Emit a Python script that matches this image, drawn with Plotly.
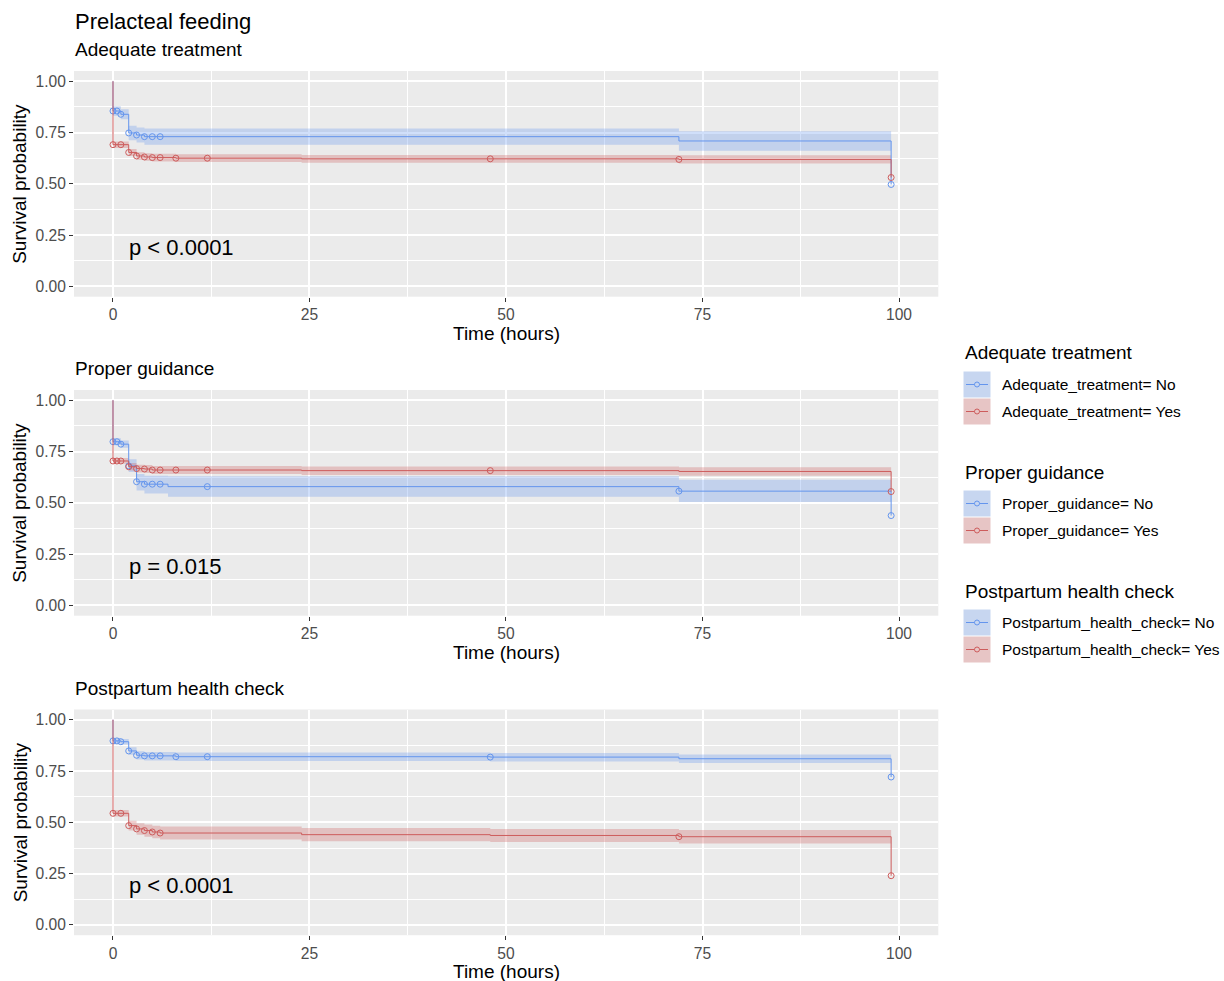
import numpy as np
import plotly.graph_objects as go

W, H = 1224, 981

# ---------------- data ----------------
main_title = "Prelacteal feeding"
panel_titles = ["Adequate treatment", "Proper guidance", "Postpartum health check"]
strata_labels = [
    ["Adequate_treatment= No", "Adequate_treatment= Yes"],
    ["Proper_guidance= No", "Proper_guidance= Yes"],
    ["Postpartum_health_check= No", "Postpartum_health_check= Yes"],
]
pvalues = ["p < 0.0001", "p = 0.015", "p < 0.0001"]
x_ticks = [0, 25, 50, 75, 100]
y_ticks = [0.0, 0.25, 0.5, 0.75, 1.0]
y_ticktext = ["0.00", "0.25", "0.50", "0.75", "1.00"]
x_title = "Time (hours)"
y_title = "Survival probability"

# Adequate treatment
adeq_no_time = [0, 0, 1, 2, 3, 4, 72, 99]
adeq_no_surv = [1.0, 0.855, 0.839, 0.748, 0.738, 0.730, 0.709, 0.497]
adeq_no_lower = [1.0, 0.832, 0.815, 0.713, 0.702, 0.690, 0.661, 0.497]
adeq_no_upper = [1.0, 0.878, 0.863, 0.783, 0.775, 0.770, 0.756, 0.497]
adeq_no_censor = [0, 0.5, 1, 2, 3, 4, 5, 6, 99]

adeq_yes_time = [0, 0, 2, 3, 4, 5, 8, 24, 72, 99]
adeq_yes_surv = [1.0, 0.691, 0.653, 0.636, 0.631, 0.628, 0.625, 0.622, 0.619, 0.531]
adeq_yes_lower = [1.0, 0.675, 0.636, 0.618, 0.613, 0.609, 0.606, 0.603, 0.599, 0.531]
adeq_yes_upper = [1.0, 0.707, 0.670, 0.654, 0.649, 0.647, 0.644, 0.641, 0.639, 0.531]
adeq_yes_censor = [0, 1, 2, 3, 4, 5, 6, 8, 12, 48, 72, 99]

# Proper guidance
guid_no_time = [0, 0, 1, 2, 3, 4, 7, 72, 99]
guid_no_surv = [1.0, 0.798, 0.786, 0.680, 0.603, 0.591, 0.579, 0.557, 0.438]
guid_no_lower = [1.0, 0.781, 0.768, 0.650, 0.560, 0.545, 0.530, 0.504, 0.438]
guid_no_upper = [1.0, 0.815, 0.804, 0.712, 0.640, 0.632, 0.630, 0.612, 0.438]
guid_no_censor = [0, 0.5, 1, 2, 3, 4, 5, 6, 12, 72, 99]

guid_yes_time = [0, 0, 2, 3, 4, 5, 24, 72, 99]
guid_yes_surv = [1.0, 0.704, 0.676, 0.667, 0.665, 0.660, 0.657, 0.653, 0.555]
guid_yes_lower = [1.0, 0.690, 0.658, 0.648, 0.646, 0.640, 0.636, 0.632, 0.555]
guid_yes_upper = [1.0, 0.718, 0.694, 0.686, 0.684, 0.680, 0.677, 0.673, 0.555]
guid_yes_censor = [0, 0.5, 1, 2, 3, 4, 5, 6, 8, 12, 48, 99]

# Postpartum health check
post_no_time = [0, 0, 1, 2, 3, 4, 8, 48, 72, 99]
post_no_surv = [1.0, 0.897, 0.893, 0.848, 0.827, 0.824, 0.820, 0.818, 0.810, 0.721]
post_no_lower = [1.0, 0.884, 0.879, 0.830, 0.806, 0.802, 0.799, 0.797, 0.789, 0.721]
post_no_upper = [1.0, 0.910, 0.906, 0.866, 0.846, 0.843, 0.840, 0.838, 0.831, 0.721]
post_no_censor = [0, 0.5, 1, 2, 3, 4, 5, 6, 8, 12, 48, 99]

post_yes_time = [0, 0, 2, 3, 4, 5, 6, 24, 48, 72, 99]
post_yes_surv = [1.0, 0.544, 0.484, 0.468, 0.460, 0.453, 0.448, 0.440, 0.436, 0.430, 0.240]
post_yes_lower = [1.0, 0.528, 0.460, 0.440, 0.430, 0.422, 0.416, 0.408, 0.404, 0.397, 0.240]
post_yes_upper = [1.0, 0.560, 0.508, 0.496, 0.490, 0.484, 0.480, 0.472, 0.468, 0.463, 0.240]
post_yes_censor = [0, 1, 2, 3, 4, 5, 6, 72, 99]

panels = [
    [(adeq_no_time, adeq_no_surv, adeq_no_lower, adeq_no_upper, adeq_no_censor),
     (adeq_yes_time, adeq_yes_surv, adeq_yes_lower, adeq_yes_upper, adeq_yes_censor)],
    [(guid_no_time, guid_no_surv, guid_no_lower, guid_no_upper, guid_no_censor),
     (guid_yes_time, guid_yes_surv, guid_yes_lower, guid_yes_upper, guid_yes_censor)],
    [(post_no_time, post_no_surv, post_no_lower, post_no_upper, post_no_censor),
     (post_yes_time, post_yes_surv, post_yes_lower, post_yes_upper, post_yes_censor)],
]

# ---------------- style ----------------
FONT = "Liberation Sans"
line_colors = ["rgb(100,149,237)", "rgb(205,92,92)"]
fill_colors = ["rgba(100,149,237,0.3)", "rgba(205,92,92,0.3)"]
key_fill = ["rgb(199,214,240)", "rgb(231,197,197)"]

x_dom = [74 / W, 938.3 / W]
panel_px = [(71, 296.7), (390, 615.7), (709.5, 935.2)]
x_range = [-4.96, 105.0]
y_range = [-0.05, 1.05]


def py(p):
    return 1 - p / H


def px(p):
    return p / W


fig = go.Figure()

for i, groups in enumerate(panels):
    xa = "x" if i == 0 else f"x{i+1}"
    ya = "y" if i == 0 else f"y{i+1}"
    for g, (t, s, lo, up, cens) in enumerate(groups):
        fig.add_trace(go.Scatter(x=t, y=lo, mode="lines", line=dict(width=0, shape="hv"),
                                 xaxis=xa, yaxis=ya, showlegend=False, hoverinfo="skip"))
        fig.add_trace(go.Scatter(x=t, y=up, mode="lines", line=dict(width=0, shape="hv"),
                                 fill="tonexty", fillcolor=fill_colors[g],
                                 xaxis=xa, yaxis=ya, showlegend=False, hoverinfo="skip"))
    for g, (t, s, lo, up, cens) in enumerate(groups):
        fig.add_trace(go.Scatter(x=t, y=s, mode="lines",
                                 line=dict(width=1, shape="hv", color=line_colors[g]),
                                 xaxis=xa, yaxis=ya, showlegend=False))
        tarr = np.array(t, dtype=float)
        sarr = np.array(s, dtype=float)
        idx = np.searchsorted(tarr, np.array(cens, dtype=float), side="right") - 1
        fig.add_trace(go.Scatter(x=cens, y=sarr[idx], mode="markers",
                                 marker=dict(symbol="circle-open", size=6,
                                             color=line_colors[g], line=dict(width=1)),
                                 xaxis=xa, yaxis=ya, showlegend=False))

layout = dict(
    width=W, height=H, autosize=False,
    margin=dict(l=0, r=0, t=0, b=0),
    paper_bgcolor="white", plot_bgcolor="#EBEBEB",
    font=dict(family=FONT, color="black"),
    showlegend=False,
)

annotations = []
shapes = []
for i in range(3):
    top, bot = panel_px[i]
    sfx = "" if i == 0 else str(i + 1)
    layout["xaxis" + sfx] = dict(
        domain=x_dom, range=x_range, anchor="y" + sfx,
        tickvals=x_ticks, ticktext=[str(v) for v in x_ticks],
        showgrid=True, gridcolor="white", gridwidth=1.6, zeroline=False,
        ticks="outside", ticklen=4, tickwidth=1.3, tickcolor="#333333",
        tickfont=dict(size=15.6, color="#4D4D4D", family=FONT),
        minor=dict(dtick=12.5, tick0=0, showgrid=True, gridcolor="white", gridwidth=0.8, ticks=""),
        showline=False, fixedrange=True,
    )
    layout["yaxis" + sfx] = dict(
        domain=[py(bot), py(top)], range=y_range, anchor="x" + sfx,
        tickvals=y_ticks, ticktext=y_ticktext,
        showgrid=True, gridcolor="white", gridwidth=1.6, zeroline=False,
        ticks="outside", ticklen=4, tickwidth=1.3, tickcolor="#333333",
        tickfont=dict(size=15.6, color="#4D4D4D", family=FONT),
        minor=dict(dtick=0.125, tick0=0, showgrid=True, gridcolor="white", gridwidth=0.8, ticks=""),
        showline=False, fixedrange=True,
    )
    # panel subtitle
    annotations.append(dict(text=panel_titles[i], x=px(73), y=py(top - 21), xref="paper", yref="paper",
                            xanchor="left", yanchor="middle", showarrow=False,
                            font=dict(size=19, family=FONT, color="black")))
    # x title
    annotations.append(dict(text=x_title, x=px((74 + 938.3) / 2), y=py(bot + 36.5), xref="paper", yref="paper",
                            xanchor="center", yanchor="middle", showarrow=False,
                            font=dict(size=19, family=FONT, color="black")))
    # y title
    annotations.append(dict(text=y_title, x=px(20), y=py((top + bot) / 2), xref="paper", yref="paper",
                            xanchor="center", yanchor="middle", showarrow=False, textangle=-90,
                            font=dict(size=19, family=FONT, color="black")))
    # p-value
    annotations.append(dict(text=pvalues[i], x=1.75, y=0.19, xref="x" + sfx, yref="y" + sfx,
                            xanchor="left", yanchor="middle", showarrow=False,
                            font=dict(size=22, family=FONT, color="black")))

    # legend group
    title_y = 353 + 119 * i
    annotations.append(dict(text=panel_titles[i], x=px(963), y=py(title_y), xref="paper", yref="paper",
                            xanchor="left", yanchor="middle", showarrow=False,
                            font=dict(size=19, family=FONT, color="black")))
    for g in range(2):
        cy = title_y + 31.5 + 27 * g
        shapes.append(dict(type="rect", xref="paper", yref="paper",
                           x0=px(963.5), x1=px(990.5), y0=py(cy - 13), y1=py(cy + 13),
                           fillcolor=key_fill[g], line=dict(width=0), layer="above"))
        shapes.append(dict(type="line", xref="paper", yref="paper",
                           x0=px(966), x1=px(988), y0=py(cy), y1=py(cy),
                           line=dict(color=line_colors[g], width=1), layer="above"))
        shapes.append(dict(type="circle", xref="paper", yref="paper",
                           x0=px(974.5), x1=px(979.5), y0=py(cy - 2.5), y1=py(cy + 2.5),
                           fillcolor=key_fill[g], line=dict(color=line_colors[g], width=1), layer="above"))
        annotations.append(dict(text=strata_labels[i][g], x=px(1000), y=py(cy), xref="paper", yref="paper",
                                xanchor="left", yanchor="middle", showarrow=False,
                                font=dict(size=15.5, family=FONT, color="black")))

annotations.append(dict(text=main_title, x=px(73), y=py(21), xref="paper", yref="paper",
                        xanchor="left", yanchor="middle", showarrow=False,
                        font=dict(size=22, family=FONT, color="black")))

layout["annotations"] = annotations
layout["shapes"] = shapes
fig.update_layout(**layout)

fig.write_html(
    "out.html",
    config={"displayModeBar": False},
    post_script="document.body.style.margin='0px';document.body.style.overflow='hidden';",
)
